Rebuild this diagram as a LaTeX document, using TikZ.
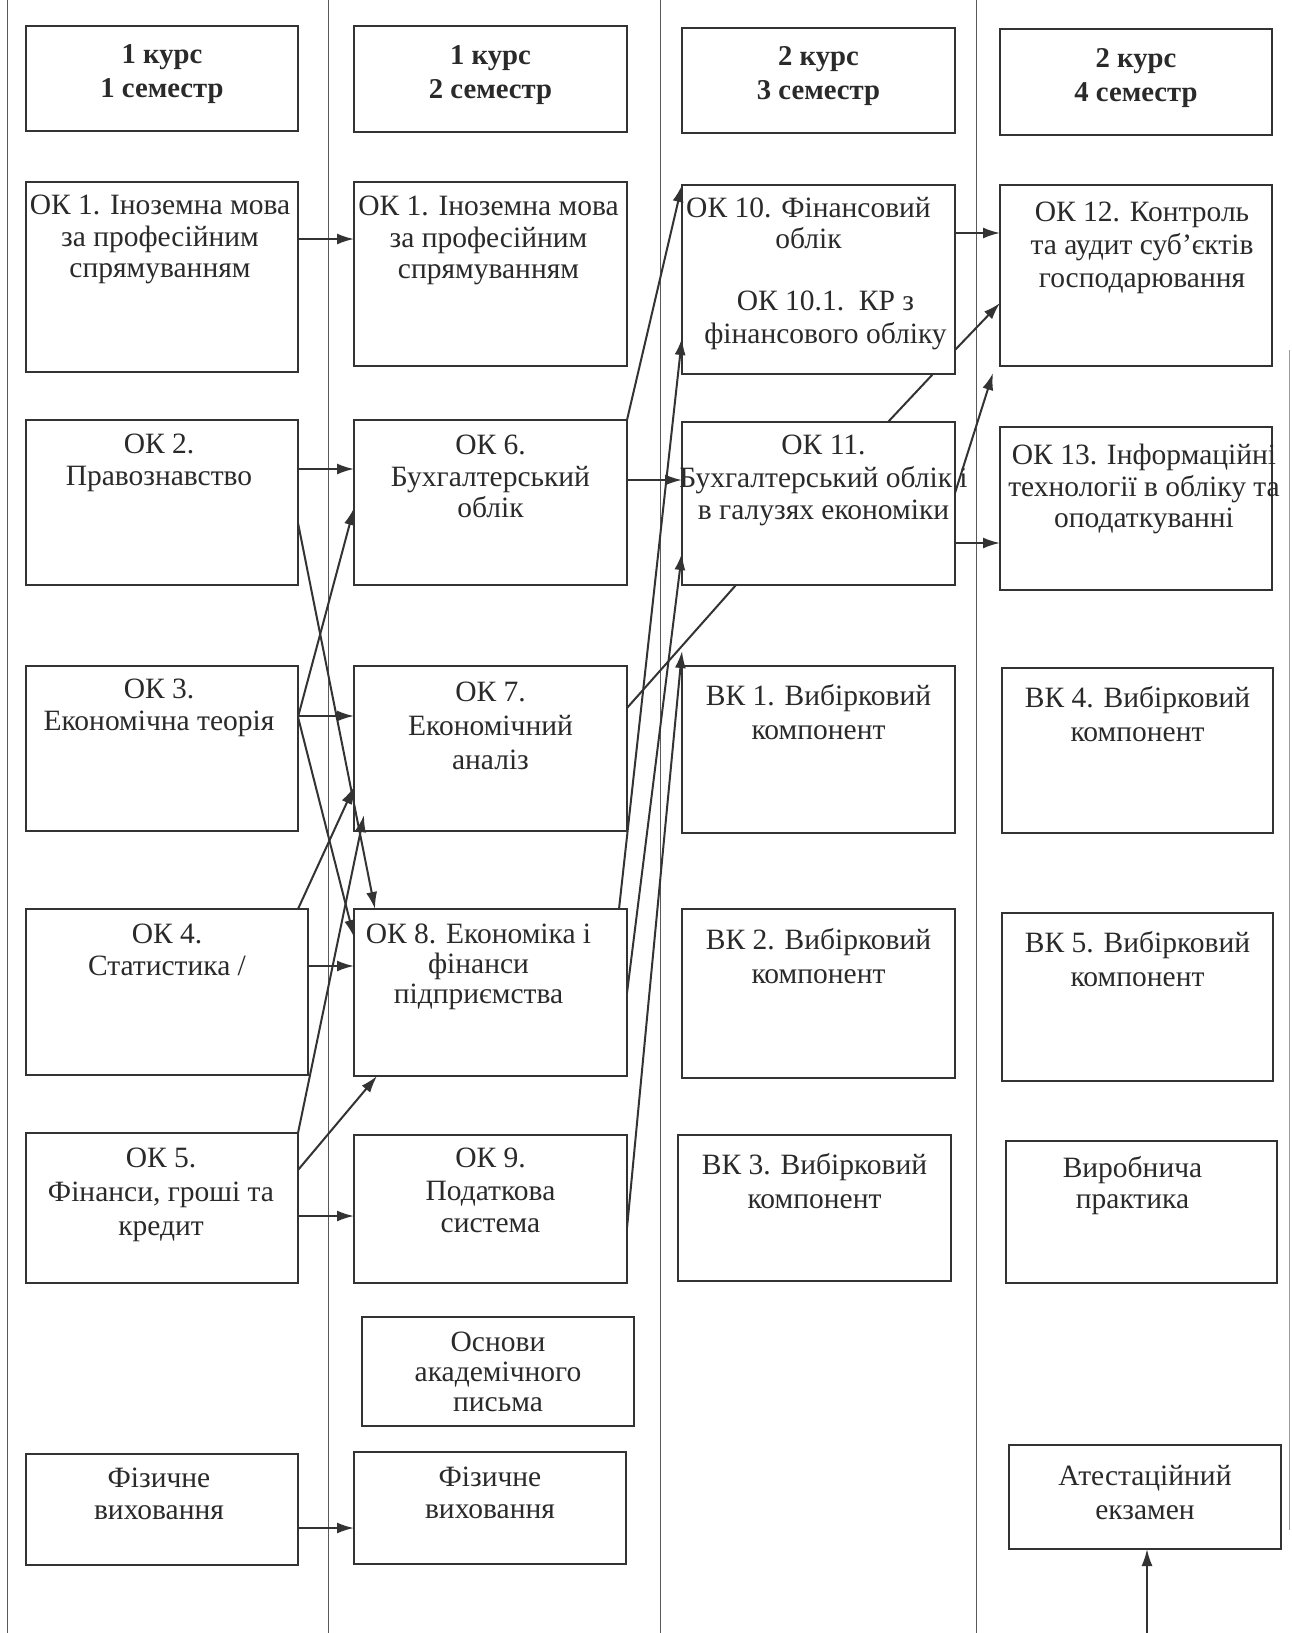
\documentclass[tikz,border=0pt]{standalone}
\usepackage{fontspec}
\setmainfont{Liberation Serif}
\usetikzlibrary{arrows.meta,calc}
\definecolor{boxc}{HTML}{333333}
\definecolor{txtc}{HTML}{2A2A2A}
\definecolor{linec}{HTML}{333333}
\definecolor{sepc}{HTML}{5A5A5A}
\tikzset{
  bx/.style={draw=boxc, line width=1.6pt, inner sep=0pt, outer sep=0pt, anchor=north west},
  txt/.style={anchor=north, align=center, inner sep=0pt, font=\fontsize{29.5}{31.5}\selectfont, text=txtc},
  sp/.style={font=\fontsize{29.5}{#1}\selectfont},
  hdr/.style={anchor=center, align=center, inner sep=0pt, font=\fontsize{28.7}{34}\selectfont\bfseries, text=txtc},
  arr/.style={draw=linec, line width=2pt, -{Latex[length=17pt,width=11pt]}},
  ln/.style={draw=linec, line width=2pt},
  sepline/.style={draw=sepc, line width=1pt},
}
\newcommand\mkbox[5]{\node[bx, minimum width={#4-#2}, minimum height={#5-#3}] (#1) at (#2,#3) {};}
\newcommand\mktxt[5][]{\node[txt,#1] at ($(#2.north)+(#3,#4)$) {#5};}
\begin{document}
\begin{tikzpicture}[x=1pt,y=-1pt]
\fill[white] (0,0) rectangle (1291,1633);
\useasboundingbox (0,0) rectangle (1291,1633);
% separators
\draw[sepline] (7,0) -- (7,1633);
\draw[sepline] (328,0) -- (328,1633);
\draw[sepline] (660,0) -- (660,1633);
\draw[sepline] (976,0) -- (976,1633);
\draw[sepline, draw=sepc!60] (1289,350) -- (1289,1530);
% column 1
\mkbox{h1}{26}{26}{298}{131}
\node[hdr] at ($(h1.center)+(0,-4)$) {1 курс\\1 семестр};
\mkbox{a1}{26}{182}{298}{372}
\mktxt{a1}{-2}{13}{ОК 1. Іноземна мова\\за професійним\\спрямуванням}
\mkbox{a2}{26}{420}{298}{585}
\mktxt{a2}{-3}{14}{ОК 2.\\Правознавство}
\mkbox{a3}{26}{666}{298}{831}
\mktxt{a3}{-3}{13}{ОК 3.\\Економічна теорія}
\mkbox{a4}{26}{909}{308}{1075}
\mktxt{a4}{0}{15}{ОК 4.\\Статистика /}
\mkbox{a5}{26}{1133}{298}{1283}
\mktxt[sp=34]{a5}{-1}{15}{ОК 5.\\Фінанси, гроші та\\кредит}
\mkbox{a6}{26}{1454}{298}{1565}
\mktxt{a6}{-3}{14}{Фізичне\\виховання}
% column 2
\mkbox{h2}{354}{26}{627}{132}
\node[hdr] at ($(h2.center)+(0,-4)$) {1 курс\\2 семестр};
\mkbox{b1}{354}{182}{627}{366}
\mktxt{b1}{-2}{14}{ОК 1. Іноземна мова\\за професійним\\спрямуванням}
\mkbox{b6}{354}{420}{627}{585}
\mktxt{b6}{0}{15}{ОК 6.\\Бухгалтерський\\облік}
\mkbox{b7}{354}{666}{627}{831}
\mktxt[sp=34]{b7}{0}{16}{ОК 7.\\Економічний\\аналіз}
\mkbox{b8}{354}{909}{627}{1076}
\mktxt[sp=30]{b8}{-12}{15}{ОК 8. Економіка і\\фінанси\\підприємства}
\mkbox{b9}{354}{1135}{627}{1283}
\mktxt[sp=32.5]{b9}{0}{13}{ОК 9.\\Податкова\\система}
\mkbox{b10}{362}{1317}{634}{1426}
\mktxt[sp=30]{b10}{0}{15}{Основи\\академічного\\письма}
\mkbox{b11}{354}{1452}{626}{1564}
\mktxt{b11}{0}{15}{Фізичне\\виховання}
% column 3
\mkbox{h3}{682}{28}{955}{133}
\node[hdr] at ($(h3.center)+(0,-4)$) {2 курс\\3 семестр};
\mkbox{c10}{682}{185}{955}{374}
\mktxt{c10}{-10}{12}{ОК 10. Фінансовий\\облік}
\mktxt[sp=33]{c10}{7}{106}{ОК 10.1.\ \ КР з\\фінансового обліку}
\mkbox{c11}{682}{422}{955}{585}
\mktxt[sp=32.5]{c11}{5}{13}{ОК 11.\\Бухгалтерський облік і\\в галузях економіки}
\mkbox{c1}{682}{666}{955}{833}
\mktxt[sp=34]{c1}{0}{18}{ВК 1. Вибірковий\\компонент}
\mkbox{c2}{682}{909}{955}{1078}
\mktxt[sp=34]{c2}{0}{19}{ВК 2. Вибірковий\\компонент}
\mkbox{c3}{678}{1135}{951}{1281}
\mktxt[sp=34]{c3}{0}{18}{ВК 3. Вибірковий\\компонент}
% column 4
\mkbox{h4}{1000}{29}{1272}{135}
\node[hdr] at ($(h4.center)+(0,-4)$) {2 курс\\4 семестр};
\mkbox{d12}{1000}{185}{1272}{366}
\mktxt[sp=33]{d12}{6}{17}{ОК 12. Контроль\\та аудит суб’єктів\\господарювання}
\mkbox{d13}{1000}{427}{1272}{590}
\mktxt{d13}{8}{17}{ОК 13. Інформаційні\\технології в обліку та\\оподаткуванні}
\mkbox{d4}{1002}{668}{1273}{833}
\mktxt[sp=34]{d4}{0}{18}{ВК 4. Вибірковий\\компонент}
\mkbox{d5}{1002}{913}{1273}{1081}
\mktxt[sp=34]{d5}{0}{18}{ВК 5. Вибірковий\\компонент}
\mkbox{d6}{1006}{1141}{1277}{1283}
\mktxt{d6}{-9}{15}{Виробнича\\практика}
\mkbox{d7}{1009}{1445}{1281}{1549}
\mktxt[sp=34]{d7}{0}{20}{Атестаційний\\екзамен}
% horizontal arrows
\draw[arr] (a1.east |- 0,239) -- (b1.west |- 0,239);
\draw[arr] (a2.east |- 0,469) -- (b6.west |- 0,469);
\draw[arr] (a3.east |- 0,716) -- (b7.west |- 0,716);
\draw[arr] (a4.east |- 0,966) -- (b8.west |- 0,966);
\draw[arr] (a5.east |- 0,1216) -- (b9.west |- 0,1216);
\draw[arr] (a6.east |- 0,1528) -- (b11.west |- 0,1528);
\draw[arr] (b6.east |- 0,480) -- (c11.west |- 0,480);
\draw[arr] (c10.east |- 0,233) -- (d12.west |- 0,233);
\draw[arr] (c11.east |- 0,543) -- (d13.west |- 0,543);
% diagonal arrows, column 1 to 2
\draw[arr] (a2.east |- 0,523) -- (b8.north -| 375,0);
\draw[arr] (a3.east |- 0,717) -- (b6.west |- 0,508);
\draw[arr] (a3.east |- 0,717) -- (b8.west |- 0,937);
\draw[arr] (a4.north -| 298,0) -- (b7.west |- 0,787);
\draw[arr] (a5.north east) -- ($(b7.south west)+(10,-16)$);
\draw[arr] (a5.east |- 0,1170) -- (b8.south -| 377,0);
% column 2 to 3
\draw[arr] (b6.north east) -- (c10.north west);
\draw[arr] (b8.north -| 619,0) -- (c10.west |- 0,338);
\draw[arr] (b8.east |- 0,993) -- (c11.west |- 0,553);
\draw[arr] (b9.east |- 0,1228) -- ($(c11.south west)+(0,66)$);
\draw[ln] (b7.east |- 0,708) -- (c11.south -| 736,0);
% column 3 to 4
\draw[arr] (c10.east |- 0,350) -- (d12.west |- 0,303);
\draw[ln] (c11.north -| 888,0) -- (c10.south -| 933,0);
\draw[arr] (c11.east |- 0,493) -- ($(d12.south west)+(-7,7)$);
\coordinate (bot) at (1147,1633);
\draw[arr] (bot) -- (d7.south -| 1147,0);
\end{tikzpicture}
\end{document}
